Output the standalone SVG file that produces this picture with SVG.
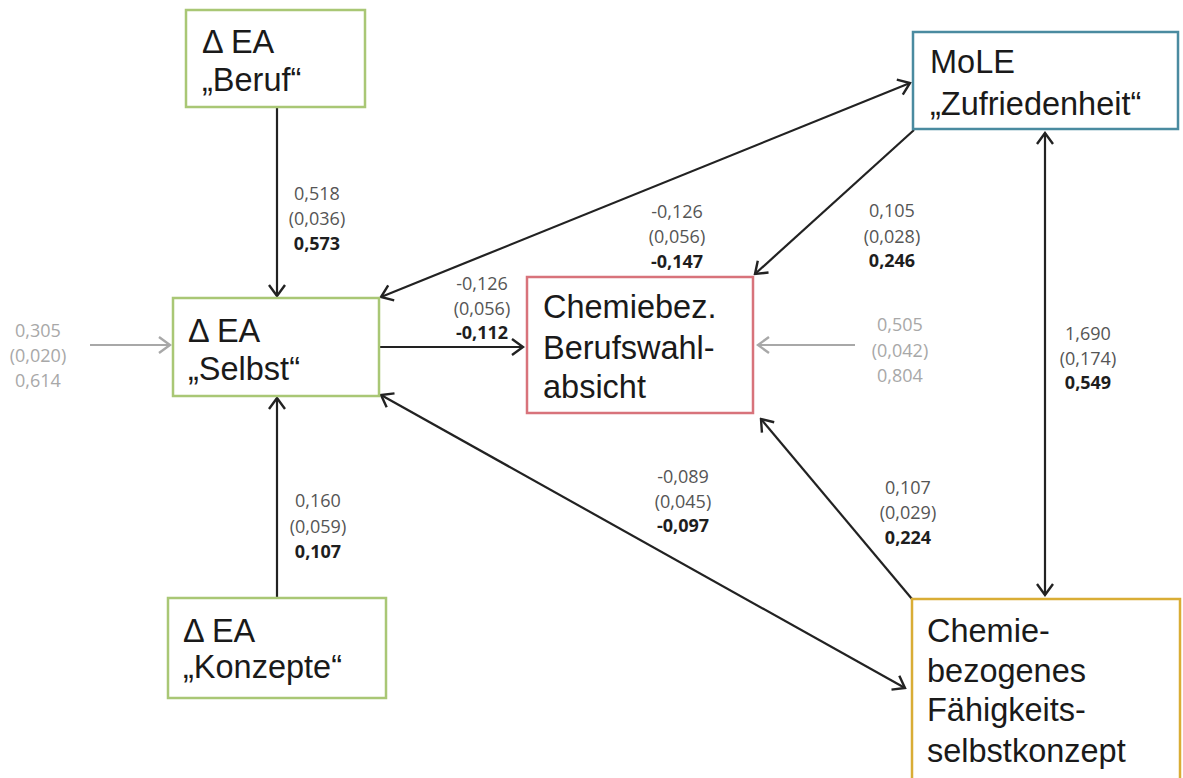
<svg xmlns="http://www.w3.org/2000/svg" width="1183" height="778" viewBox="0 0 1183 778">
  <style>
    .box { fill: #ffffff; stroke-width: 2.5; }
    .green { stroke: #a9c775; }
    .red { stroke: #d8737b; }
    .blue { stroke: #4a8ba0; }
    .gold { stroke: #d9ad35; }
    .node { font-family: "Liberation Sans", Arial, sans-serif; font-size: 32.5px; fill: #1a1a1a; }
    .lbl { font-family: "Open Sans", "Liberation Sans", sans-serif; font-size: 18px; fill: #555555; text-anchor: middle; }
    .lbl .b { font-weight: bold; fill: #1e1e1e; }
    .lbl.grey, .lbl.grey .b { fill: #a8a8a8; font-weight: normal; }
    .edge { fill: none; stroke: #222222; stroke-width: 2.2; }
    .edge.grey { stroke: #a8a8a8; }
  </style>
  <defs>
    <marker id="ah" viewBox="-13 -10 15 20" refX="0" refY="0" markerWidth="15" markerHeight="20" markerUnits="userSpaceOnUse" orient="auto-start-reverse">
      <path d="M-11,-8 L0,0 L-11,8" fill="none" stroke="#222222" stroke-width="2.4"/>
    </marker>
    <marker id="ahg" viewBox="-13 -10 15 20" refX="0" refY="0" markerWidth="15" markerHeight="20" markerUnits="userSpaceOnUse" orient="auto">
      <path d="M-11,-8 L0,0 L-11,8" fill="none" stroke="#a8a8a8" stroke-width="2.4"/>
    </marker>
  </defs>

  <rect width="1183" height="778" fill="#ffffff"/>

  <!-- connectors -->
  <g id="connectors">
    <line class="edge" x1="277" y1="108" x2="277" y2="296" marker-end="url(#ah)"/>
    <line class="edge" x1="277" y1="598" x2="277" y2="398" marker-end="url(#ah)"/>
    <line class="edge grey" x1="90" y1="345" x2="170" y2="345" marker-end="url(#ahg)"/>
    <line class="edge" x1="380" y1="347" x2="523" y2="347" marker-end="url(#ah)"/>
    <line class="edge grey" x1="855" y1="345" x2="758" y2="345" marker-end="url(#ahg)"/>
    <line class="edge" x1="381" y1="297" x2="910" y2="83" marker-start="url(#ah)" marker-end="url(#ah)"/>
    <line class="edge" x1="914" y1="130" x2="755" y2="274" marker-end="url(#ah)"/>
    <line class="edge" x1="912" y1="599" x2="761" y2="419" marker-end="url(#ah)"/>
    <line class="edge" x1="381" y1="395" x2="905" y2="688" marker-start="url(#ah)" marker-end="url(#ah)"/>
    <line class="edge" x1="1045" y1="133" x2="1045" y2="595" marker-start="url(#ah)" marker-end="url(#ah)"/>
  </g>

  <!-- coefficient labels -->
  <g id="labels">
    <text class="lbl" x="317"><tspan x="317" y="200">0,518</tspan><tspan x="317" y="225">(0,036)</tspan><tspan class="b" x="317" y="250">0,573</tspan></text>
    <text class="lbl grey" x="38"><tspan x="38" y="337">0,305</tspan><tspan x="38" y="362">(0,020)</tspan><tspan class="b" x="38" y="387">0,614</tspan></text>
    <text class="lbl" x="318"><tspan x="318" y="507">0,160</tspan><tspan x="318" y="533">(0,059)</tspan><tspan class="b" x="318" y="558">0,107</tspan></text>
    <text class="lbl" x="482"><tspan x="482" y="290">-0,126</tspan><tspan x="482" y="315">(0,056)</tspan><tspan class="b" x="482" y="339">-0,112</tspan></text>
    <text class="lbl" x="677"><tspan x="677" y="218">-0,126</tspan><tspan x="677" y="243">(0,056)</tspan><tspan class="b" x="677" y="268">-0,147</tspan></text>
    <text class="lbl" x="892"><tspan x="892" y="217">0,105</tspan><tspan x="892" y="243">(0,028)</tspan><tspan class="b" x="892" y="267">0,246</tspan></text>
    <text class="lbl grey" x="900"><tspan x="900" y="331">0,505</tspan><tspan x="900" y="357">(0,042)</tspan><tspan class="b" x="900" y="382">0,804</tspan></text>
    <text class="lbl" x="1088"><tspan x="1088" y="340">1,690</tspan><tspan x="1088" y="365">(0,174)</tspan><tspan class="b" x="1088" y="389">0,549</tspan></text>
    <text class="lbl" x="683"><tspan x="683" y="483">-0,089</tspan><tspan x="683" y="508">(0,045)</tspan><tspan class="b" x="683" y="532">-0,097</tspan></text>
    <text class="lbl" x="908"><tspan x="908" y="494">0,107</tspan><tspan x="908" y="519">(0,029)</tspan><tspan class="b" x="908" y="544">0,224</tspan></text>
  </g>

  <!-- nodes -->
  <g id="ea-beruf">
    <rect class="box green" x="186" y="10" width="179" height="97"/>
    <text class="node"><tspan x="202" y="53">Δ EA</tspan><tspan x="202" y="91">„Beruf“</tspan></text>
  </g>
  <g id="ea-selbst">
    <rect class="box green" x="173" y="298" width="206" height="98"/>
    <text class="node"><tspan x="188" y="342">Δ EA</tspan><tspan x="188" y="380">„Selbst“</tspan></text>
  </g>
  <g id="ea-konzepte">
    <rect class="box green" x="168" y="598" width="218" height="100"/>
    <text class="node"><tspan x="183" y="642">Δ EA</tspan><tspan x="183" y="678">„Konzepte“</tspan></text>
  </g>
  <g id="berufswahlabsicht">
    <rect class="box red" x="527" y="277" width="226" height="136"/>
    <text class="node"><tspan x="543" y="318">Chemiebez.</tspan><tspan x="543" y="359">Berufswahl-</tspan><tspan x="543" y="398">absicht</tspan></text>
  </g>
  <g id="mole-zufriedenheit">
    <rect class="box blue" x="913" y="32" width="265" height="97"/>
    <text class="node"><tspan x="930" y="73">MoLE</tspan><tspan x="930" y="115">„Zufriedenheit“</tspan></text>
  </g>
  <g id="faehigkeitsselbstkonzept">
    <rect class="box gold" x="912" y="599" width="268" height="200"/>
    <text class="node"><tspan x="927" y="642">Chemie-</tspan><tspan x="927" y="682">bezogenes</tspan><tspan x="927" y="721">Fähigkeits-</tspan><tspan x="927" y="762">selbstkonzept</tspan></text>
  </g>
</svg>
